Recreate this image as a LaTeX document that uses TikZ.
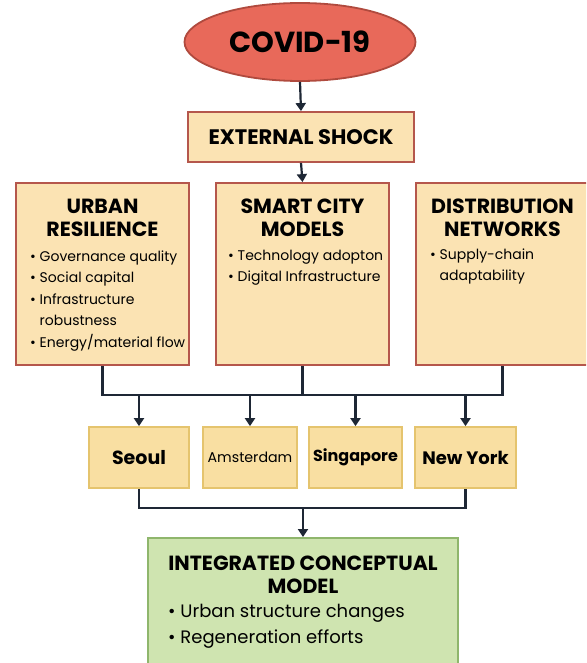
\documentclass[tikz,border=0pt]{standalone}
\usepackage{fontspec}
\setmainfont{Poppins}
\usetikzlibrary{arrows.meta, positioning, shapes.geometric}
\definecolor{covidred}{HTML}{E8695A}
\definecolor{covidedge}{HTML}{B04A3E}
\definecolor{cardfill}{HTML}{FBE3B3}
\definecolor{cardedge}{HTML}{B5574C}
\definecolor{cityfill}{HTML}{F9DFA2}
\definecolor{cityedge}{HTML}{E5C46E}
\definecolor{modelfill}{HTML}{CFE4B0}
\definecolor{modeledge}{HTML}{8FB66C}
\definecolor{inkline}{HTML}{1E2735}

\tikzset{
  card/.style={draw=cardedge, fill=cardfill, line width=1.8pt, minimum width=173pt, minimum height=182pt},
  head/.style={align=center, font=\fontsize{20.5}{22.5}\selectfont\bfseries, inner sep=0pt, anchor=north},
  items/.style={align=left, font=\fontsize{14}{21.5}\selectfont, inner sep=0pt, anchor=north west},
  city/.style={draw=cityedge, fill=cityfill, line width=1.8pt, minimum height=61pt, inner sep=1pt},
  link/.style={draw=inkline, line width=2.2pt},
  arrow/.style={link, -{Triangle[length=8pt,width=10pt]}},
}

\begin{document}
\begin{tikzpicture}[x=1pt, y=-1pt]
    \clip (0,0) rectangle (586,663);
    \fill[white] (0,0) rectangle (586,663);

    % Shock
    \node[ellipse, draw=covidedge, fill=covidred, line width=1.8pt, minimum width=231pt, minimum height=78pt,
          font=\fontsize{29}{30}\selectfont\bfseries] (covid) at (300,42) {COVID-19};
    \node[draw=cardedge, fill=cardfill, line width=1.8pt, minimum width=226pt, minimum height=50pt,
          font=\fontsize{21}{22}\selectfont\bfseries] (shock) at (301,137) {EXTERNAL SHOCK};

    % Three frames
    \node[card] (urban) at (102.5,274) {};
    \node[card] (smart) at (302.5,274) {};
    \node[card] (dist) at (502.5,274) {};

    \node[head] (urbanhead) at ([yshift=-17pt]urban.north) {URBAN\\RESILIENCE};
    \node[head] (smarthead) at ([yshift=-17pt]smart.north) {SMART CITY\\MODELS};
    \node[head] (disthead) at ([yshift=-17pt]dist.north) {DISTRIBUTION\\NETWORKS};

    \node[items] (urbanlist) at (30,250.5) {\textbullet~Governance quality\\
        \textbullet~Social capital\\
        \textbullet~Infrastructure\\
        \phantom{\textbullet~}robustness\\
        \textbullet~Energy/material flow};
    \node[items] (smartlist) at (228,249.5) {\textbullet~Technology adopton\\
        \textbullet~Digital Infrastructure};
    \node[items] (distlist) at (430,248.5) {\textbullet~Supply-chain\\
        \phantom{\textbullet~}adaptability};

    % Cities
    \node[city, minimum width=100pt, font=\fontsize{19}{20}\selectfont\bfseries] (seoul) at (139,457.5) {Seoul};
    \node[city, minimum width=94pt, font=\fontsize{14.2}{16}\selectfont] (amsterdam) at (250,457.5) {Amsterdam};
    \node[city, minimum width=93pt, font=\fontsize{16}{18}\selectfont\bfseries] (singapore) at (355.5,457.5) {Singapore};
    \node[city, minimum width=101pt, font=\fontsize{18}{19}\selectfont\bfseries] (newyork) at (465.5,457.5) {New York};

    % Model
    \node[draw=modeledge, fill=modelfill, line width=1.8pt, minimum width=310pt, minimum height=140pt, anchor=north] (model) at (303,537) {};
    \node[head] (modelhead) at ([yshift=-19pt]model.north) {INTEGRATED CONCEPTUAL\\MODEL};
    \node[items, font=\fontsize{18}{25.5}\selectfont] (modellist) at (168,604) {\textbullet~Urban structure changes\\
        \textbullet~Regeneration efforts};

    % Connectors
    \coordinate (bus) at (0,395);
    \coordinate (join) at (0,508);
    \draw[arrow] (covid.south) -- (shock.north);
    \draw[arrow] (shock.south) -- (smart.north);
    \draw[link] (urban.south) -- (urban.south |- bus) -- (dist.south |- bus) -- (dist.south);
    \draw[link] (smart.south) -- (smart.south |- bus);
    \foreach \c in {seoul, amsterdam, singapore, newyork}
        \draw[arrow] (\c.north |- bus) -- (\c.north);
    \draw[link] (seoul.south) -- (seoul.south |- join) -- (newyork.south |- join) -- (newyork.south);
    \draw[arrow] (model.north |- join) -- (model.north);
\end{tikzpicture}
\end{document}
